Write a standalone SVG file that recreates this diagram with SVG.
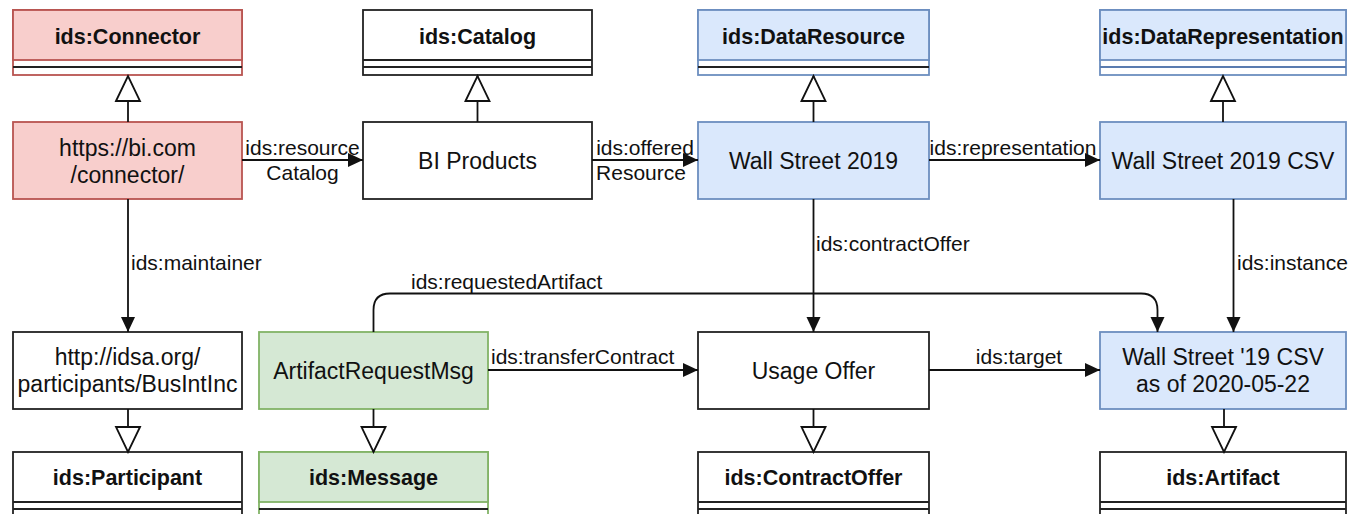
<svg xmlns="http://www.w3.org/2000/svg" width="1349" height="514" viewBox="0 0 1349 514">
  <style>
    text { font-family: "Liberation Sans", Arial, sans-serif; fill: #111; }
    .hdr { font-size: 21.5px; font-weight: bold; text-anchor: middle; }
    .body { font-size: 23px; text-anchor: middle; }
    .lbl { font-size: 21px; }
    .mid { text-anchor: middle; }
    .plain { fill: #fff; stroke: #222; stroke-width: 1.8; }
    .red { fill: #f8cecc; stroke: #b85450; stroke-width: 1.8; }
    .blue { fill: #dae8fc; stroke: #6c8ebf; stroke-width: 1.8; }
    .green { fill: #d5e8d4; stroke: #82b366; stroke-width: 1.8; }
    .white-red { fill: #fff; stroke: #b85450; stroke-width: 1.8; }
    .white-blue { fill: #fff; stroke: #6c8ebf; stroke-width: 1.8; }
    .white-green { fill: #fff; stroke: #82b366; stroke-width: 1.8; }
    .sep { stroke: #222; stroke-width: 1.8; }
    .sep-blue { stroke: #5a7cb0; stroke-width: 1.8; }
    .edge { fill: none; stroke: #111; stroke-width: 1.8; }
    .assoc { marker-end: url(#arrow); }
    .gen { marker-end: url(#hollow); }
  </style>
  <defs>
    <marker id="arrow" markerUnits="userSpaceOnUse" markerWidth="16" markerHeight="16" viewBox="0 0 16 16" refX="15" refY="8" orient="auto">
      <path d="M0,1 L15,8 L0,15 Z" fill="#111"/>
    </marker>
    <marker id="hollow" markerUnits="userSpaceOnUse" markerWidth="28" markerHeight="28" viewBox="0 0 28 28" refX="26" refY="14" orient="auto">
      <path d="M1,2 L26,14 L1,26 Z" fill="#fff" stroke="#111" stroke-width="1.8"/>
    </marker>
  </defs>

  <!-- top row: classes -->
  <g id="cls-connector">
    <rect x="13" y="10" width="229" height="65" class="white-red"/>
    <rect x="13" y="10" width="229" height="50" class="red"/>
    <line x1="13" y1="67" x2="242" y2="67" class="sep"/>
    <text x="127.5" y="43.5" class="hdr">ids:Connector</text>
  </g>
  <g id="cls-catalog">
    <rect x="363" y="10" width="229" height="65" class="plain"/>
    <line x1="363" y1="60" x2="592" y2="60" class="sep"/>
    <line x1="363" y1="67" x2="592" y2="67" class="sep"/>
    <text x="477.5" y="43.5" class="hdr">ids:Catalog</text>
  </g>
  <g id="cls-dataresource">
    <rect x="698" y="10" width="231" height="65" class="white-blue"/>
    <rect x="698" y="10" width="231" height="50" class="blue"/>
    <line x1="698" y1="67" x2="929" y2="67" class="sep"/>
    <text x="813.5" y="43.5" class="hdr">ids:DataResource</text>
  </g>
  <g id="cls-datarepresentation">
    <rect x="1100" y="10" width="246" height="65" class="white-blue"/>
    <rect x="1100" y="10" width="246" height="50" class="blue"/>
    <line x1="1100" y1="67" x2="1346" y2="67" class="sep-blue"/>
    <text x="1223" y="43.5" class="hdr">ids:DataRepresentation</text>
  </g>

  <!-- middle row: instances -->
  <g id="inst-connector">
    <rect x="13" y="122" width="229" height="77" class="red"/>
    <text x="127.5" y="155.5" class="body">https://bi.com</text>
    <text x="127.5" y="182.5" class="body">/connector/</text>
  </g>
  <g id="inst-biproducts">
    <rect x="363" y="122" width="229" height="77" class="plain"/>
    <text x="477.5" y="169" class="body">BI Products</text>
  </g>
  <g id="inst-wallstreet">
    <rect x="698" y="122" width="231" height="77" class="blue"/>
    <text x="813.5" y="169" class="body">Wall Street 2019</text>
  </g>
  <g id="inst-wallstreet-csv">
    <rect x="1100" y="122" width="246" height="77" class="blue"/>
    <text x="1223" y="169" class="body">Wall Street 2019 CSV</text>
  </g>

  <!-- lower row: instances -->
  <g id="inst-participant">
    <rect x="13" y="332" width="229" height="77" class="plain"/>
    <text x="127.5" y="364.5" class="body">http://idsa.org/</text>
    <text x="127.5" y="391.5" class="body">participants/BusIntInc</text>
  </g>
  <g id="inst-request">
    <rect x="259" y="332" width="229" height="77" class="green"/>
    <text x="373.5" y="378.5" class="body">ArtifactRequestMsg</text>
  </g>
  <g id="inst-usageoffer">
    <rect x="698" y="332" width="231" height="77" class="plain"/>
    <text x="813.5" y="378.5" class="body">Usage Offer</text>
  </g>
  <g id="inst-artifact">
    <rect x="1100" y="332" width="246" height="77" class="blue"/>
    <text x="1223" y="364.5" class="body">Wall Street '19 CSV</text>
    <text x="1223" y="391.5" class="body">as of 2020-05-22</text>
  </g>

  <!-- bottom row: classes -->
  <g id="cls-participant">
    <rect x="13" y="452" width="229" height="66" class="plain"/>
    <line x1="13" y1="502" x2="242" y2="502" class="sep"/>
    <line x1="13" y1="509" x2="242" y2="509" class="sep"/>
    <text x="127.5" y="485" class="hdr">ids:Participant</text>
  </g>
  <g id="cls-message">
    <rect x="259" y="452" width="229" height="66" class="white-green"/>
    <rect x="259" y="452" width="229" height="50" class="green"/>
    <line x1="259" y1="509" x2="488" y2="509" class="sep"/>
    <text x="373.5" y="485" class="hdr">ids:Message</text>
  </g>
  <g id="cls-contractoffer">
    <rect x="698" y="452" width="231" height="66" class="plain"/>
    <line x1="698" y1="502" x2="929" y2="502" class="sep"/>
    <line x1="698" y1="509" x2="929" y2="509" class="sep"/>
    <text x="813.5" y="485" class="hdr">ids:ContractOffer</text>
  </g>
  <g id="cls-artifact">
    <rect x="1100" y="452" width="246" height="66" class="plain"/>
    <line x1="1100" y1="502" x2="1346" y2="502" class="sep"/>
    <line x1="1100" y1="509" x2="1346" y2="509" class="sep"/>
    <text x="1223" y="485" class="hdr">ids:Artifact</text>
  </g>

  <!-- connectors -->
  <g id="connectors">
    <!-- generalisations -->
    <path d="M128,122 V76" class="edge gen"/>
    <path d="M477.5,122 V76" class="edge gen"/>
    <path d="M813.5,122 V76" class="edge gen"/>
    <path d="M1223,122 V76" class="edge gen"/>
    <path d="M128,409 V452" class="edge gen"/>
    <path d="M373.5,409 V452" class="edge gen"/>
    <path d="M813.5,409 V452" class="edge gen"/>
    <path d="M1224,409 V452" class="edge gen"/>

    <!-- associations -->
    <path d="M242,160 H363" class="edge assoc"/>
    <path d="M592,160 H698" class="edge assoc"/>
    <path d="M929,160 H1100" class="edge assoc"/>
    <path d="M128,199 V332" class="edge assoc"/>
    <path d="M813.5,199 V332" class="edge assoc"/>
    <path d="M1233.5,199 V332" class="edge assoc"/>
    <path d="M488,370 H698" class="edge assoc"/>
    <path d="M929,370 H1100" class="edge assoc"/>
    <path d="M373.5,332 V310 Q373.5,293.5 390,293.5 H1141 Q1157.5,293.5 1157.5,310 V332" class="edge assoc"/>

    <!-- labels -->
    <text x="302.5" y="155" class="lbl mid">ids:resource</text>
    <text x="302.5" y="180" class="lbl mid">Catalog</text>
    <text x="645" y="155" class="lbl mid">ids:offered</text>
    <text x="641" y="180" class="lbl mid">Resource</text>
    <text x="1013" y="155" class="lbl mid">ids:representation</text>
    <text x="131" y="270" class="lbl">ids:maintainer</text>
    <text x="816" y="251" class="lbl">ids:contractOffer</text>
    <text x="1237" y="270" class="lbl">ids:instance</text>
    <text x="411" y="289" class="lbl">ids:requestedArtifact</text>
    <text x="491" y="364" class="lbl">ids:transferContract</text>
    <text x="1019" y="364" class="lbl mid">ids:target</text>
  </g>
</svg>
